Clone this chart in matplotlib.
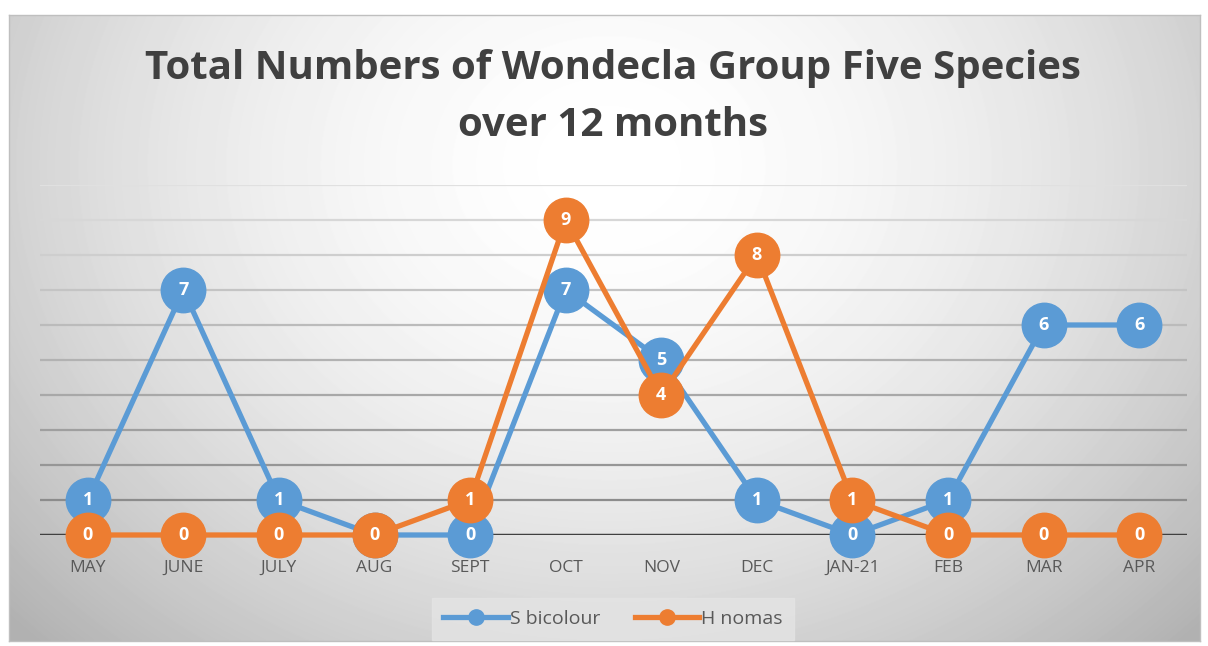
import matplotlib.pyplot as plt
import numpy as np

months = ["MAY", "JUNE", "JULY", "AUG", "SEPT", "OCT", "NOV", "DEC", "JAN-21", "FEB", "MAR", "APR"]
s_bicolour = [1, 7, 1, 0, 0, 7, 5, 1, 0, 1, 6, 6]
h_nomas = [0, 0, 0, 0, 1, 9, 4, 8, 1, 0, 0, 0]

blue = "#5b9bd5"
orange = "#ed7d31"
font = "Open Sans"

W, H = 1208, 646
fig = plt.figure(figsize=(W / 100, H / 100), dpi=100)

# background gradient panel
bg = fig.add_axes([9 / W, 5 / H, 1191 / W, 626 / H])
yy, xx = np.mgrid[0:626, 0:1191]
r = np.sqrt(((xx - 600) / 680.0) ** 2 + ((yy - 150) / 560.0) ** 2)
shade = 1.0 - 0.22 * np.clip(r, 0, 1.2) ** 1.8
bg.imshow(shade, cmap="gray", vmin=0, vmax=1, aspect="auto", interpolation="bilinear")
bg.set_xticks([])
bg.set_yticks([])
for s in bg.spines.values():
    s.set_color("#bfbfbf")
    s.set_linewidth(1)

ax = fig.add_axes([40 / W, 111 / H, 1147 / W, 350 / H])
ax.patch.set_alpha(0)
x = np.arange(len(months))
ax.set_xlim(-0.5, len(months) - 0.5)
ax.set_ylim(0, 10)

# gridlines getting lighter towards the top
for v in range(1, 11):
    g = 0.55 + 0.33 * (v - 1) / 9
    ax.axhline(v, color=(g, g, g), lw=1.6, zorder=1)
ax.axhline(0, color="#404040", lw=2.5, zorder=2)

for vals, c, z in [(s_bicolour, blue, 3), (h_nomas, orange, 4)]:
    ax.plot(x, vals, color=c, lw=3.8, marker="o", markersize=32, zorder=z, clip_on=False)
    for xi, v in zip(x, vals):
        ax.text(xi, v, str(v), ha="center", va="center", color="white",
                fontsize=13, fontweight="bold", family=font, zorder=z + 0.5)

ax.set_xticks(x)
ax.set_xticklabels(months, fontsize=12.5, color="#595959", family=font)
ax.tick_params(axis="x", length=0, pad=18)
ax.set_yticks([])
for s in ax.spines.values():
    s.set_visible(False)

fig.text(613 / W, 1 - 68 / H, "Total Numbers of Wondecla Group Five Species",
         ha="center", va="center", fontsize=29, fontweight="bold", color="#404040", family=font)
fig.text(613 / W, 1 - 126 / H, "over 12 months",
         ha="center", va="center", fontsize=29, fontweight="bold", color="#404040", family=font)

h1, = ax.plot([], [], color=blue, lw=3.8, marker="o", markersize=11)
h2, = ax.plot([], [], color=orange, lw=3.8, marker="o", markersize=11)
leg = fig.legend([h1, h2], ["S bicolour", "H nomas"], loc="center",
                 bbox_to_anchor=(613 / W, 1 - 619 / H), ncol=2, frameon=True,
                 prop={"family": font, "size": 14}, labelcolor="#595959",
                 handlelength=3.3, handletextpad=0.1, columnspacing=1.8,
                 fancybox=False, borderpad=0.6)
leg.get_frame().set_facecolor("#e4e4e4")
leg.get_frame().set_edgecolor("#e4e4e4")

fig.savefig("out.png", dpi=100)
